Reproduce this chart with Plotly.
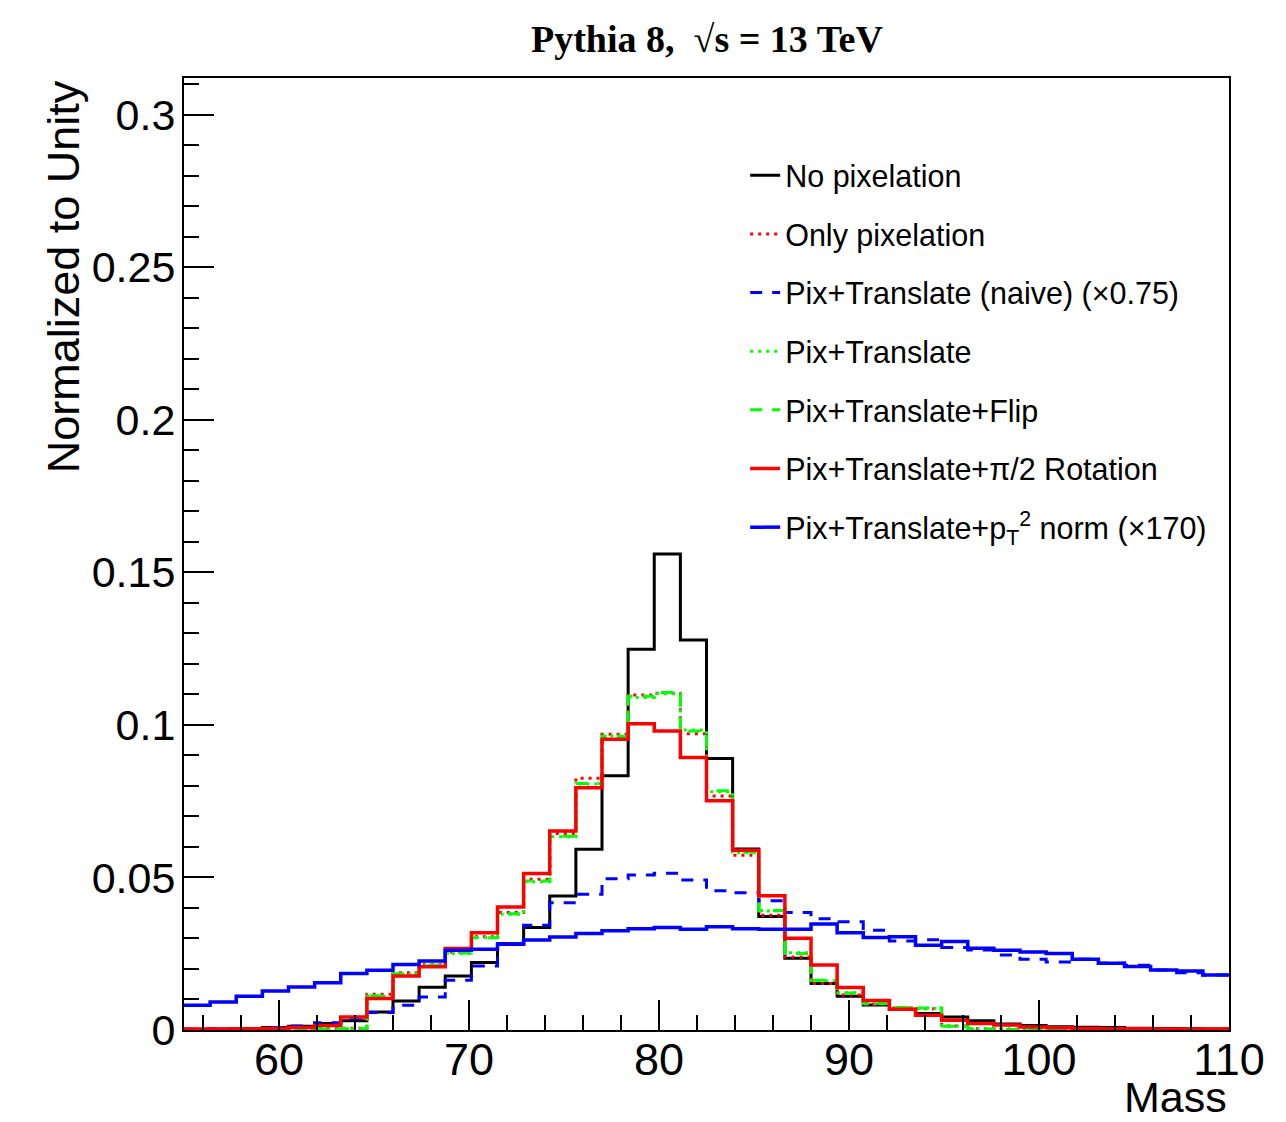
import numpy as np
import plotly.graph_objects as go

# histogram binning: 40 bins from 55 to 110
mass_lo = 55.0
mass_hi = 110.0
n_bins = 40

# bin contents (normalized to unity)
no_pix = [0.0002, 0.0003, 0.0005, 0.0008, 0.0012, 0.0021, 0.0030, 0.0059, 0.0095, 0.0140,
          0.0177, 0.0221, 0.0283, 0.0336, 0.0439, 0.0592, 0.0833, 0.1248, 0.1560, 0.1278,
          0.0890, 0.0593, 0.0372, 0.0235, 0.0152, 0.0111, 0.0082, 0.0068, 0.0054, 0.0043,
          0.0030, 0.0020, 0.0015, 0.0011, 0.0009, 0.0008, 0.0006, 0.0005, 0.0004, 0.0003]

only_pix = [0.0001, 0.0001, 0.0002, 0.0003, 0.0004, 0.0005, 0.0006, 0.0117, 0.0188, 0.0215,
            0.0256, 0.0306, 0.0385, 0.0494, 0.0644, 0.0825, 0.0969, 0.1098, 0.1104, 0.0971,
            0.0767, 0.0573, 0.0376, 0.0239, 0.0152, 0.0115, 0.0084, 0.0072, 0.0070, 0.0013,
            0.0004, 0.0003, 0.0002, 0.0002, 0.0001, 0.0001, 0.0001, 0.0001, 0.0001, 0.0001]

pix_naive = [0.0003, 0.0004, 0.0005, 0.0008, 0.0013, 0.0024, 0.0037, 0.0057, 0.0081, 0.0108,
             0.0163, 0.0210, 0.0283, 0.0343, 0.0417, 0.0445, 0.0496, 0.0508, 0.0514, 0.0492,
             0.0456, 0.0450, 0.0424, 0.0385, 0.0365, 0.0355, 0.0327, 0.0292, 0.0296, 0.0270,
             0.0262, 0.0246, 0.0232, 0.0223, 0.0232, 0.0219, 0.0212, 0.0197, 0.0188, 0.0180]

pix_translate = [0.0001, 0.0001, 0.0001, 0.0002, 0.0002, 0.0003, 0.0004, 0.0111, 0.0183, 0.0213,
                 0.0251, 0.0303, 0.0379, 0.0486, 0.0633, 0.0806, 0.0964, 0.1090, 0.1102, 0.0983,
                 0.0781, 0.0581, 0.0390, 0.0253, 0.0161, 0.0122, 0.0086, 0.0073, 0.0071, 0.0013,
                 0.0003, 0.0002, 0.0001, 0.0001, 0.0001, 0.0001, 0.0001, 0.0001, 0.0001, 0.0001]

pix_flip = [0.0001, 0.0001, 0.0001, 0.0002, 0.0002, 0.0003, 0.0004, 0.0112, 0.0184, 0.0212,
            0.0252, 0.0302, 0.0381, 0.0488, 0.0635, 0.0808, 0.0962, 0.1094, 0.1106, 0.0980,
            0.0784, 0.0583, 0.0392, 0.0251, 0.0163, 0.0121, 0.0087, 0.0074, 0.0072, 0.0012,
            0.0003, 0.0002, 0.0001, 0.0001, 0.0001, 0.0001, 0.0001, 0.0001, 0.0001, 0.0001]

pix_rot = [0.0003, 0.0003, 0.0004, 0.0005, 0.0008, 0.0015, 0.0043, 0.0103, 0.0177, 0.0207,
           0.0267, 0.0319, 0.0403, 0.0513, 0.0652, 0.0794, 0.0953, 0.1004, 0.0980, 0.0893,
           0.0751, 0.0589, 0.0440, 0.0301, 0.0213, 0.0139, 0.0097, 0.0068, 0.0048, 0.0032,
           0.0021, 0.0016, 0.0010, 0.0007, 0.0005, 0.0004, 0.0004, 0.0003, 0.0003, 0.0003]

pix_pt2 = [0.0081, 0.0092, 0.0111, 0.0128, 0.0141, 0.0155, 0.0185, 0.0196, 0.0215, 0.0226,
           0.0261, 0.0265, 0.0281, 0.0295, 0.0305, 0.0316, 0.0325, 0.0332, 0.0336, 0.0330,
           0.0338, 0.0332, 0.0330, 0.0330, 0.0347, 0.0319, 0.0303, 0.0306, 0.0278, 0.0290,
           0.0268, 0.0261, 0.0256, 0.0251, 0.0232, 0.0219, 0.0208, 0.0197, 0.0193, 0.0180]

y_ticks = [0, 0.05, 0.1, 0.15, 0.2, 0.25, 0.3]
y_labels = ['0', '0.05', '0.1', '0.15', '0.2', '0.25', '0.3']
x_ticks = [60, 70, 80, 90, 100, 110]

series = [
    ('No pixelation', no_pix, 'black', 'solid', 3),
    ('Only pixelation', only_pix, '#ff0000', '3px,5px', 3),
    ('Pix+Translate (naive) (\u00d70.75)', pix_naive, '#0000ff', '12px,10px', 3),
    ('Pix+Translate', pix_translate, '#00ff00', '3px,5px', 3),
    ('Pix+Translate+Flip', pix_flip, '#00ff00', '12px,10px', 3),
    ('Pix+Translate+\u03c0/2 Rotation', pix_rot, '#ff0000', 'solid', 3.5),
    ('Pix+Translate+p<sub>T</sub><sup>2</sup> norm (\u00d7170)', pix_pt2, '#0000ff', 'solid', 3.5),
]

edges = np.linspace(mass_lo, mass_hi, n_bins + 1)

fig = go.Figure()
for i, (name, vals, color, dash, width) in enumerate(series):
    fig.add_trace(go.Scatter(
        x=edges,
        y=list(vals) + [vals[-1]],
        mode='lines',
        line=dict(color=color, dash=dash, width=width, shape='hv'),
        name=name,
        legendgroup=str(i),
    ))

font_axis = 'Liberation Sans, Arial, sans-serif'

# page body has a small margin, so the figure is a bit smaller than the window
fig.update_layout(
    width=1279, height=1115, autosize=False,
    margin=dict(l=176, r=58, t=70, b=93),
    paper_bgcolor='white', plot_bgcolor='white',
    showlegend=True,
    legend=dict(
        x=0.537, y=0.9255, xanchor='left', yanchor='top',
        font=dict(family=font_axis, size=30.5, color='black'),
        bgcolor='rgba(0,0,0,0)', borderwidth=0,
        tracegroupgap=16, itemwidth=30, traceorder='grouped',
    ),
    xaxis=dict(
        range=[mass_lo, mass_hi], tickvals=x_ticks,
        ticks='inside', ticklen=30, tickwidth=2, tickcolor='black',
        minor=dict(ticks='inside', dtick=2, tick0=60, ticklen=15, tickwidth=2, tickcolor='black', showgrid=False),
        showgrid=False, zeroline=False,
        showline=True, linecolor='black', linewidth=2, mirror=True,
        tickfont=dict(family=font_axis, size=45, color='black'),
        ticklabelstandoff=-11,
    ),
    yaxis=dict(
        range=[0, 0.312], tickvals=y_ticks, ticktext=y_labels,
        ticks='inside', ticklen=30, tickwidth=2, tickcolor='black',
        minor=dict(ticks='inside', dtick=0.01, tick0=0, ticklen=15, tickwidth=2, tickcolor='black', showgrid=False),
        showgrid=False, zeroline=False,
        showline=True, linecolor='black', linewidth=2, mirror=True,
        tickfont=dict(family=font_axis, size=43, color='black'),
        ticklabelstandoff=-2,
    ),
    annotations=[
        dict(text='<b>Pythia 8,  \u221as = 13 TeV</b>', xref='paper', yref='paper',
             x=0.5, y=1.041, xanchor='center', yanchor='middle', showarrow=False,
             font=dict(family='Liberation Serif, Times New Roman, serif', size=38, color='black')),
        dict(text='Normalized to Unity', xref='paper', yref='paper', textangle=-90,
             x=-0.115, y=1.0, xanchor='center', yanchor='top', showarrow=False,
             font=dict(family=font_axis, size=45, color='black')),
        dict(text='Mass', xref='paper', yref='paper',
             x=1.0, y=-93 / 952, xanchor='right', yanchor='bottom', showarrow=False,
             font=dict(family=font_axis, size=43, color='black')),
    ],
)

fig.write_html("out.html")
